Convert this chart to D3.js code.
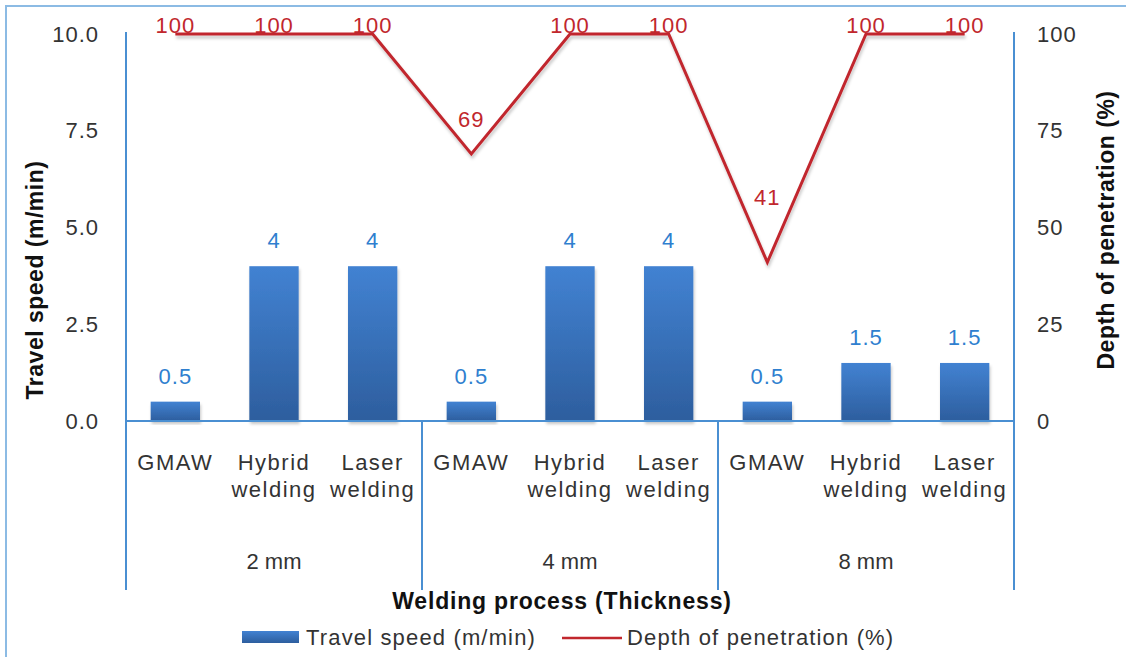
<!DOCTYPE html>
<html>
<head>
<meta charset="utf-8">
<script src="https://cdn.jsdelivr.net/npm/d3@7"></script>
<style>
  html, body { margin: 0; padding: 0; background: #fff; }
  svg { display: block; font-family: "Liberation Sans", Arial, sans-serif; }
</style>
</head>
<body>
<svg id="chart" width="1126" height="657"></svg>
<script>
// Welding processes grouped by plate thickness
const processes = ["GMAW", "Hybrid welding", "Laser welding"];
const thicknesses = ["2 mm", "4 mm", "8 mm"];
const processLines = [["GMAW"], ["Hybrid", "welding"], ["Laser", "welding"]];

// Travel speed (m/min), one value per process per thickness
const travelSpeed = [0.5, 4, 4, 0.5, 4, 4, 0.5, 1.5, 1.5];
// Depth of penetration (%)
const penetration = [100, 100, 100, 69, 100, 100, 41, 100, 100];

// Axis ticks
const speedTicks = [0, 2.5, 5, 7.5, 10];
const penTicks = [0, 25, 50, 75, 100];

const seriesNames = ["Travel speed (m/min)", "Depth of penetration (%)"];

// ---- layout ----
const svg = d3.select("#chart");
const plotLeft = 126, plotRight = 1014, plotTop = 34, zeroY = 421;
const axisColor = "#4a8fd2";
const textColor = "#333";
const font = "Liberation Sans, Arial, sans-serif";

const cats = d3.range(thicknesses.length * processes.length);
const x = d3.scaleBand().domain(cats).range([plotLeft, plotRight]).paddingInner(0.5).paddingOuter(0.25);
const xc = i => x(i) + x.bandwidth() / 2;
const ySpeed = d3.scaleLinear().domain([0, 10]).range([zeroY, plotTop]);
const yPen = d3.scaleLinear().domain([0, 100]).range([zeroY, plotTop]);

const defs = svg.append("defs");
const grad = defs.append("linearGradient").attr("id", "barGrad")
  .attr("x1", 0).attr("y1", 0).attr("x2", 0).attr("y2", 1);
grad.append("stop").attr("offset", "0%").attr("stop-color", "#4282d2");
grad.append("stop").attr("offset", "100%").attr("stop-color", "#2d5e9e");
const shadow = defs.append("filter").attr("id", "shadow")
  .attr("x", "-10%").attr("y", "-10%").attr("width", "120%").attr("height", "130%");
shadow.append("feDropShadow").attr("dx", 1).attr("dy", 3).attr("stdDeviation", 1.5)
  .attr("flood-color", "#000").attr("flood-opacity", 0.22);

// outer frame
svg.append("rect").attr("x", 6).attr("y", 6).attr("width", 1140).attr("height", 680)
  .attr("fill", "none").attr("stroke", "#8cbbe4").attr("stroke-width", 2);

// bars
svg.append("g").selectAll("rect").data(travelSpeed).join("rect")
  .attr("x", (d, i) => x(i))
  .attr("y", d => ySpeed(d))
  .attr("width", x.bandwidth())
  .attr("height", d => zeroY - ySpeed(d))
  .attr("fill", "url(#barGrad)")
  .attr("filter", "url(#shadow)");

// bar value labels
svg.append("g").selectAll("text").data(travelSpeed).join("text")
  .attr("x", (d, i) => xc(i))
  .attr("y", d => ySpeed(d) - 18)
  .attr("text-anchor", "middle")
  .attr("font-size", 22).attr("letter-spacing", 1)
  .attr("fill", "#2f7fcf")
  .text(d => d);

// penetration line
const line = d3.line().x((d, i) => xc(i)).y(d => yPen(d));
svg.append("path").datum(penetration)
  .attr("d", line)
  .attr("fill", "none")
  .attr("stroke", "#c1272d")
  .attr("stroke-width", 3)
  .attr("stroke-linejoin", "miter")
  .attr("filter", "url(#shadow)");

// penetration value labels (kept inside the chart frame at the top)
const labelLift = [27, 27, 27, 27, 27, 27, 57, 27, 27];
svg.append("g").selectAll("text").data(penetration).join("text")
  .attr("x", (d, i) => xc(i))
  .attr("y", (d, i) => Math.max(yPen(d) - labelLift[i], 33))
  .attr("text-anchor", "middle")
  .attr("font-size", 22).attr("letter-spacing", 1)
  .attr("fill", "#c1272d")
  .text(d => d);

// axes
const axisLeft = d3.axisLeft(ySpeed).tickValues(speedTicks).tickFormat(d3.format(".1f")).tickSize(0).tickPadding(27);
const gL = svg.append("g").attr("transform", `translate(${plotLeft},0)`).call(axisLeft);
gL.select(".domain").remove();
gL.selectAll("text").attr("font-size", 22).attr("letter-spacing", 1).attr("fill", textColor)
  .attr("font-family", font);

const axisRight = d3.axisRight(yPen).tickValues(penTicks).tickFormat(d3.format("d")).tickSize(0).tickPadding(23);
const gR = svg.append("g").attr("transform", `translate(${plotRight},0)`).call(axisRight);
gR.select(".domain").remove();
gR.selectAll("text").attr("font-size", 22).attr("letter-spacing", 1).attr("fill", textColor)
  .attr("font-family", font);

// axis lines and group separators
const lines = svg.append("g").attr("stroke", axisColor).attr("stroke-width", 2);
lines.append("line").attr("x1", plotLeft).attr("x2", plotRight).attr("y1", zeroY).attr("y2", zeroY);
lines.append("line").attr("x1", plotLeft).attr("x2", plotLeft).attr("y1", plotTop - 2).attr("y2", 590);
lines.append("line").attr("x1", plotRight).attr("x2", plotRight).attr("y1", plotTop - 2).attr("y2", 590);
const groupStep = (plotRight - plotLeft) / thicknesses.length;
d3.range(1, thicknesses.length).forEach(g => {
  lines.append("line").attr("x1", plotLeft + g * groupStep).attr("x2", plotLeft + g * groupStep)
    .attr("y1", zeroY).attr("y2", 590);
});

// category labels
const catG = svg.append("g").attr("font-size", 22).attr("letter-spacing", 1.5).attr("fill", textColor)
  .attr("text-anchor", "middle");
cats.forEach(i => {
  const t = catG.append("text").attr("x", xc(i)).attr("y", 470);
  processLines[i % processes.length].forEach((w, k) => {
    t.append("tspan").attr("x", xc(i)).attr("dy", k === 0 ? 0 : 27).text(w);
  });
});
thicknesses.forEach((t, g) => {
  catG.append("text").attr("x", plotLeft + (g + 0.5) * groupStep).attr("y", 569)
    .attr("letter-spacing", 0).text(t);
});

// axis titles
svg.append("text").attr("x", 562).attr("y", 609).attr("text-anchor", "middle")
  .attr("font-size", 23).attr("font-weight", "bold").attr("letter-spacing", 0.8).attr("fill", "#111")
  .text("Welding process (Thickness)");
svg.append("text").attr("transform", "translate(43,280) rotate(-90)").attr("text-anchor", "middle")
  .attr("font-size", 23).attr("font-weight", "bold").attr("letter-spacing", 0.5).attr("fill", "#111")
  .text("Travel speed (m/min)");
svg.append("text").attr("transform", "translate(1114,230) rotate(-90)").attr("text-anchor", "middle")
  .attr("font-size", 23).attr("font-weight", "bold").attr("letter-spacing", 0.5).attr("fill", "#111")
  .text("Depth of penetration (%)");

// legend
const lg = svg.append("g").attr("font-size", 22).attr("letter-spacing", 1.15).attr("fill", textColor);
lg.append("rect").attr("x", 242).attr("y", 631).attr("width", 57).attr("height", 12).attr("fill", "url(#barGrad)");
lg.append("text").attr("x", 306).attr("y", 645).text(seriesNames[0]);
lg.append("line").attr("x1", 562).attr("x2", 622).attr("y1", 638).attr("y2", 638)
  .attr("stroke", "#c1272d").attr("stroke-width", 2.5);
lg.append("text").attr("x", 627).attr("y", 645).text(seriesNames[1]);
</script>
</body>
</html>
